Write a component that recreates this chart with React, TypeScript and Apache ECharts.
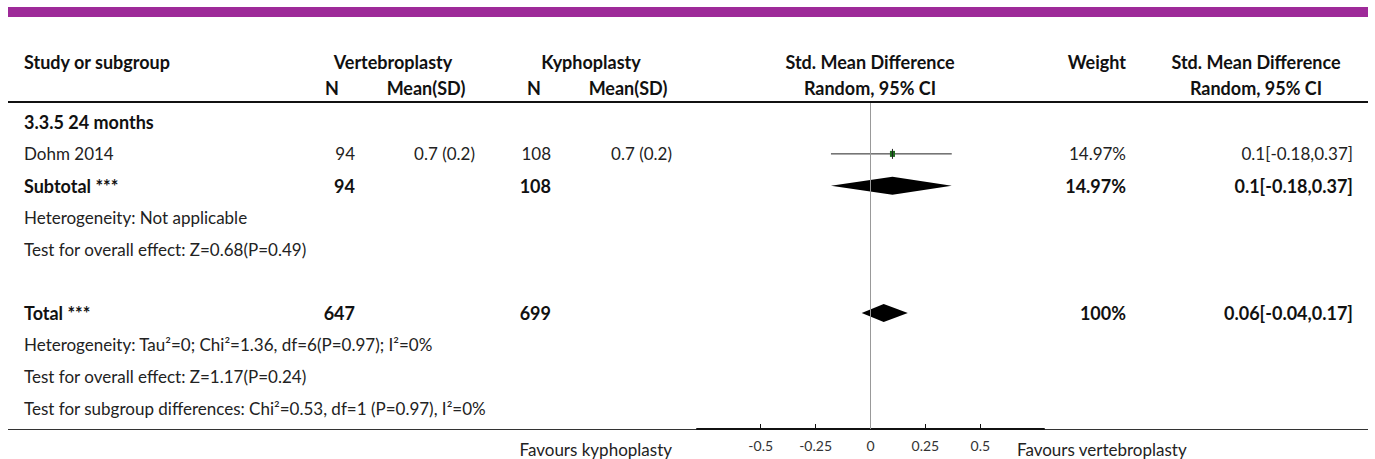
import React, { useEffect, useRef } from "react";
import * as echarts from "echarts";

// ---------- data ----------
const headerTop = ["Study or subgroup", "Vertebroplasty", "Kyphoplasty", "Std. Mean Difference", "Weight", "Std. Mean Difference"];
const headerSub = ["N", "Mean(SD)", "N", "Mean(SD)", "Random, 95% CI", "Random, 95% CI"];

const rowLabels = [
  "3.3.5 24 months",
  "Dohm 2014",
  "Subtotal ***",
  "Heterogeneity: Not applicable",
  "Test for overall effect: Z=0.68(P=0.49)",
  "",
  "Total ***",
  "Heterogeneity: Tau²=0; Chi²=1.36, df=6(P=0.97); I²=0%",
  "Test for overall effect: Z=1.17(P=0.24)",
  "Test for subgroup differences: Chi²=0.53, df=1 (P=0.97), I²=0%",
];
const rowBold = [true, false, true, false, false, false, true, false, false, false];
const vertN = ["", "94", "94", "", "", "", "647", "", "", ""];
const vertMean = ["", "0.7 (0.2)", "", "", "", "", "", "", "", ""];
const kyphN = ["", "108", "108", "", "", "", "699", "", "", ""];
const kyphMean = ["", "0.7 (0.2)", "", "", "", "", "", "", "", ""];
const weights = ["", "14.97%", "14.97%", "", "", "", "100%", "", "", ""];
const ciTexts = ["", "0.1[-0.18,0.37]", "0.1[-0.18,0.37]", "", "", "", "0.06[-0.04,0.17]", "", "", ""];

// forest values: [estimate, lower, upper, row, weight]
const studyEffects = [[0.1, -0.18, 0.37, 1, 14.97]];
// pooled diamonds: [estimate, lower, upper, row]
const pooledEffects = [
  [0.1, -0.18, 0.37, 2],
  [0.06, -0.04, 0.17, 6],
];
const axisTickValues = [-0.5, -0.25, 0, 0.25, 0.5];
const favoursLeft = "Favours kyphoplasty";
const favoursRight = "Favours vertebroplasty";

// ---------- layout ----------
const W = 1375;
const H = 459;
const FONT = "Lato, 'Noto Sans', sans-serif";
const BODY_SIZE = 17;
const BOLD_SIZE = 18;
const HEAD_SIZE = 18;
const rowTop = 103;
const rowBottom = 429;
const yMin = -0.6;
const yMax = 9.65;
const colDefs = [
  { arr: rowLabels, x: 24, align: "left" },
  { arr: vertN, x: 355, align: "right" },
  { arr: vertMean, x: 475, align: "right" },
  { arr: kyphN, x: 551, align: "right" },
  { arr: kyphMean, x: 672, align: "right" },
  { arr: weights, x: 1126, align: "right" },
  { arr: ciTexts, x: 1353, align: "right" },
];
const headTopPos = [
  { x: 24, align: "left" },
  { x: 393, align: "center" },
  { x: 591, align: "center" },
  { x: 870, align: "center" },
  { x: 1126, align: "right" },
  { x: 1256, align: "center" },
];
const headSubPos = [
  { x: 332, align: "center" },
  { x: 426, align: "center" },
  { x: 534, align: "center" },
  { x: 628, align: "center" },
  { x: 870, align: "center" },
  { x: 1256, align: "center" },
];

export default function App() {
  const ref = useRef<HTMLDivElement>(null);
  useEffect(() => {
    document.body.style.margin = "0";
    const chart = echarts.init(ref.current!, undefined, { renderer: "svg" });

    const cellData: number[][] = [];
    colDefs.forEach((c, ci) => {
      c.arr.forEach((t, ri) => {
        if (t) cellData.push([c.x, ri, ci]);
      });
    });

    const graphics: any[] = [
      { type: "rect", shape: { x: 8, y: 7, width: 1360, height: 10 }, style: { fill: "#9e2a99" }, silent: true },
      { type: "line", shape: { x1: 8, y1: 102, x2: 1368, y2: 102 }, style: { stroke: "#111", lineWidth: 2 }, silent: true },
      { type: "line", shape: { x1: 8, y1: 429.5, x2: 1368, y2: 429.5 }, style: { stroke: "#333", lineWidth: 1 }, silent: true, z: 0 },
    ];
    headerTop.forEach((t, i) => {
      graphics.push({
        type: "text",
        x: headTopPos[i].x,
        y: 62,
        style: { text: t, textAlign: headTopPos[i].align, textVerticalAlign: "middle", font: `bold ${HEAD_SIZE}px ${FONT}`, fill: "#111" },
      });
    });
    headerSub.forEach((t, i) => {
      graphics.push({
        type: "text",
        x: headSubPos[i].x,
        y: 88,
        style: { text: t, textAlign: headSubPos[i].align, textVerticalAlign: "middle", font: `bold ${HEAD_SIZE}px ${FONT}`, fill: "#111" },
      });
    });
    graphics.push({
      type: "text",
      x: 672,
      y: 449,
      style: { text: favoursLeft, textAlign: "right", textVerticalAlign: "middle", font: `${BODY_SIZE}px ${FONT}`, fill: "#222" },
    });
    graphics.push({
      type: "text",
      x: 1017,
      y: 449,
      style: { text: favoursRight, textAlign: "left", textVerticalAlign: "middle", font: `${BODY_SIZE}px ${FONT}`, fill: "#222" },
    });

    chart.setOption({
      animation: false,
      grid: [
        { left: 697, top: rowTop, width: 347, height: rowBottom - rowTop },
        { left: 0, top: rowTop, width: W, height: rowBottom - rowTop },
      ],
      xAxis: [
        {
          type: "value",
          gridIndex: 0,
          min: -0.79,
          max: 0.79,
          splitLine: { show: false },
          axisLine: { show: true, onZero: false, lineStyle: { color: "#111", width: 2 } },
          axisTick: { show: true, inside: true, length: 5, customValues: axisTickValues, lineStyle: { color: "#111" } },
          axisLabel: { customValues: axisTickValues, margin: 9, fontSize: 14, color: "#333", fontFamily: FONT },
        },
        { type: "value", gridIndex: 1, min: 0, max: W, show: false },
      ],
      yAxis: [
        { type: "value", gridIndex: 0, min: yMin, max: yMax, inverse: true, show: false },
        { type: "value", gridIndex: 1, min: yMin, max: yMax, inverse: true, show: false },
      ],
      graphic: graphics,
      series: [
        {
          type: "custom",
          xAxisIndex: 1,
          yAxisIndex: 1,
          data: cellData,
          silent: true,
          renderItem: (params: any, api: any) => {
            const x = api.value(0);
            const r = api.value(1);
            const ci = api.value(2);
            const p = api.coord([x, r]);
            const col = colDefs[ci];
            const bold = rowBold[r];
            return {
              type: "text",
              x: p[0],
              y: p[1],
              style: {
                text: col.arr[r],
                textAlign: col.align,
                textVerticalAlign: "middle",
                font: bold ? `bold ${BOLD_SIZE}px ${FONT}` : `${BODY_SIZE}px ${FONT}`,
                fill: bold ? "#111" : "#222",
              },
            };
          },
        },
        {
          type: "custom",
          xAxisIndex: 0,
          yAxisIndex: 0,
          data: studyEffects,
          silent: true,
          clip: false,
          renderItem: (params: any, api: any) => {
            const est = api.value(0);
            const lo = api.value(1);
            const hi = api.value(2);
            const r = api.value(3);
            const w = api.value(4);
            const pLo = api.coord([lo, r]);
            const pHi = api.coord([hi, r]);
            const pE = api.coord([est, r]);
            const s = Math.sqrt(w) * 1.3;
            return {
              type: "group",
              children: [
                { type: "line", shape: { x1: pLo[0], y1: pLo[1], x2: pHi[0], y2: pHi[1] }, style: { stroke: "#222", lineWidth: 1 } },
                { type: "rect", shape: { x: pE[0] - s / 2, y: pE[1] - s / 2 - 0.5, width: s, height: s + 1 }, style: { fill: "#1f6b1f" } },
                { type: "line", shape: { x1: pE[0], y1: pE[1] - 5, x2: pE[0], y2: pE[1] + 5 }, style: { stroke: "#222", lineWidth: 1 } },
              ],
            };
          },
          markLine: {
            silent: true,
            symbol: "none",
            label: { show: false },
            lineStyle: { color: "#999", width: 1, type: "solid" },
            data: [{ xAxis: 0 }],
          },
        },
        {
          type: "custom",
          xAxisIndex: 0,
          yAxisIndex: 0,
          data: pooledEffects,
          silent: true,
          clip: false,
          renderItem: (params: any, api: any) => {
            const est = api.value(0);
            const lo = api.value(1);
            const hi = api.value(2);
            const r = api.value(3);
            const pLo = api.coord([lo, r]);
            const pHi = api.coord([hi, r]);
            const pE = api.coord([est, r]);
            const h = 9;
            return {
              type: "polygon",
              shape: { points: [[pLo[0], pLo[1]], [pE[0], pE[1] - h], [pHi[0], pHi[1]], [pE[0], pE[1] + h]] },
              style: { fill: "#000" },
            };
          },
        },
      ],
    });
    return () => chart.dispose();
  }, []);
  return <div ref={ref} style={{ width: W, height: H }} />;
}
